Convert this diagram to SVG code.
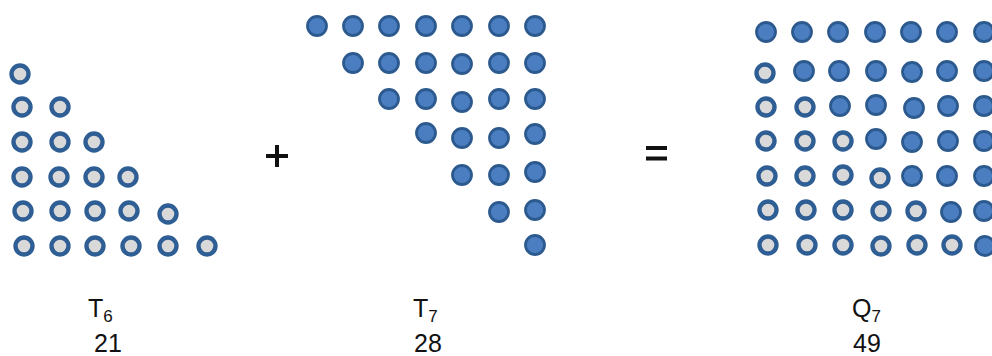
<svg xmlns="http://www.w3.org/2000/svg" xmlns:xlink="http://www.w3.org/1999/xlink" width="992" height="356" viewBox="0 0 992 356">
  <style>
    .lt { fill: #d9d9d9; stroke: #2f5e95; stroke-width: 4.4; }
    .bl { fill: #4a7ec0; stroke: #2c5a8f; stroke-width: 2.8; }
    .lbl { font-family: "Liberation Sans", Arial, sans-serif; font-size: 25px; fill: #111; }
    .sub { font-size: 17px; }
    .op { stroke: #111; stroke-width: 4; }
  </style>
  <defs>
    <circle id="L" r="8.5" class="lt"/>
    <circle id="B" r="9.5" class="bl"/>
  </defs>
  <rect width="992" height="356" fill="#ffffff"/>

  <g id="T6">
    <use xlink:href="#L" x="20" y="74"/>
    <use xlink:href="#L" x="22" y="107"/><use xlink:href="#L" x="60" y="107"/>
    <use xlink:href="#L" x="22" y="142"/><use xlink:href="#L" x="60" y="142"/><use xlink:href="#L" x="94" y="142"/>
    <use xlink:href="#L" x="22" y="177"/><use xlink:href="#L" x="59" y="177"/><use xlink:href="#L" x="94" y="177"/><use xlink:href="#L" x="128" y="177"/>
    <use xlink:href="#L" x="23" y="211"/><use xlink:href="#L" x="60" y="211"/><use xlink:href="#L" x="95" y="211"/><use xlink:href="#L" x="129" y="211"/><use xlink:href="#L" x="168" y="214"/>
    <use xlink:href="#L" x="24" y="246"/><use xlink:href="#L" x="60" y="246"/><use xlink:href="#L" x="95" y="246"/><use xlink:href="#L" x="131" y="246"/><use xlink:href="#L" x="168" y="246"/><use xlink:href="#L" x="207" y="246"/>
  </g>

  <g id="T7">
    <use xlink:href="#B" x="317" y="26"/><use xlink:href="#B" x="353" y="26"/><use xlink:href="#B" x="389" y="26"/><use xlink:href="#B" x="426" y="26"/><use xlink:href="#B" x="462" y="26"/><use xlink:href="#B" x="499" y="26"/><use xlink:href="#B" x="535" y="26"/>
    <use xlink:href="#B" x="353" y="63"/><use xlink:href="#B" x="389" y="63"/><use xlink:href="#B" x="426" y="63"/><use xlink:href="#B" x="462" y="64"/><use xlink:href="#B" x="499" y="63"/><use xlink:href="#B" x="535" y="63"/>
    <use xlink:href="#B" x="389" y="99"/><use xlink:href="#B" x="426" y="99"/><use xlink:href="#B" x="462" y="102"/><use xlink:href="#B" x="499" y="99"/><use xlink:href="#B" x="535" y="99"/>
    <use xlink:href="#B" x="426" y="133"/><use xlink:href="#B" x="462" y="138"/><use xlink:href="#B" x="499" y="138"/><use xlink:href="#B" x="535" y="134"/>
    <use xlink:href="#B" x="462" y="175"/><use xlink:href="#B" x="499" y="175"/><use xlink:href="#B" x="535" y="172"/>
    <use xlink:href="#B" x="499" y="212"/><use xlink:href="#B" x="535" y="210"/>
    <use xlink:href="#B" x="535" y="245"/>
  </g>

  <g id="Q7">
    <use xlink:href="#B" x="766" y="32"/><use xlink:href="#B" x="802" y="32"/><use xlink:href="#B" x="838" y="32"/><use xlink:href="#B" x="875" y="32"/><use xlink:href="#B" x="911" y="32"/><use xlink:href="#B" x="947" y="32"/><use xlink:href="#B" x="984" y="32"/>
    <use xlink:href="#L" x="765" y="73"/><use xlink:href="#B" x="804" y="71"/><use xlink:href="#B" x="839" y="71"/><use xlink:href="#B" x="876" y="71"/><use xlink:href="#B" x="912" y="72"/><use xlink:href="#B" x="947" y="71"/><use xlink:href="#B" x="984" y="71"/>
    <use xlink:href="#L" x="766" y="107"/><use xlink:href="#L" x="805" y="107"/><use xlink:href="#B" x="840" y="106"/><use xlink:href="#B" x="876" y="105"/><use xlink:href="#B" x="914" y="108"/><use xlink:href="#B" x="948" y="106"/><use xlink:href="#B" x="984" y="106"/>
    <use xlink:href="#L" x="766" y="141"/><use xlink:href="#L" x="805" y="141"/><use xlink:href="#L" x="843" y="141"/><use xlink:href="#B" x="876" y="139"/><use xlink:href="#B" x="912" y="142"/><use xlink:href="#B" x="948" y="141"/><use xlink:href="#B" x="984" y="141"/>
    <use xlink:href="#L" x="767" y="176"/><use xlink:href="#L" x="805" y="176"/><use xlink:href="#L" x="843" y="175"/><use xlink:href="#L" x="880" y="178"/><use xlink:href="#B" x="912" y="176"/><use xlink:href="#B" x="947" y="176"/><use xlink:href="#B" x="984" y="176"/>
    <use xlink:href="#L" x="768" y="210"/><use xlink:href="#L" x="806" y="210"/><use xlink:href="#L" x="843" y="210"/><use xlink:href="#L" x="881" y="211"/><use xlink:href="#L" x="916" y="211"/><use xlink:href="#B" x="951" y="212"/><use xlink:href="#B" x="984" y="211"/>
    <use xlink:href="#L" x="768" y="245"/><use xlink:href="#L" x="807" y="245"/><use xlink:href="#L" x="843" y="245"/><use xlink:href="#L" x="881" y="246"/><use xlink:href="#L" x="917" y="245"/><use xlink:href="#L" x="952" y="245"/><use xlink:href="#B" x="985" y="246"/>
  </g>

  <g id="operators">
    <path class="op" d="M266 156 H288 M277 145 V167"/>
    <path class="op" d="M646 148 H667 M646 158.5 H667" stroke-width="3.5"/>
  </g>

  <g id="labels">
    <text class="lbl" x="88" y="317">T<tspan class="sub" dy="5">6</tspan></text>
    <text class="lbl" x="94" y="352">21</text>
    <text class="lbl" x="413" y="317">T<tspan class="sub" dy="5">7</tspan></text>
    <text class="lbl" x="414" y="352">28</text>
    <text class="lbl" x="852" y="317">Q<tspan class="sub" dy="5">7</tspan></text>
    <text class="lbl" x="853" y="352">49</text>
  </g>
</svg>
